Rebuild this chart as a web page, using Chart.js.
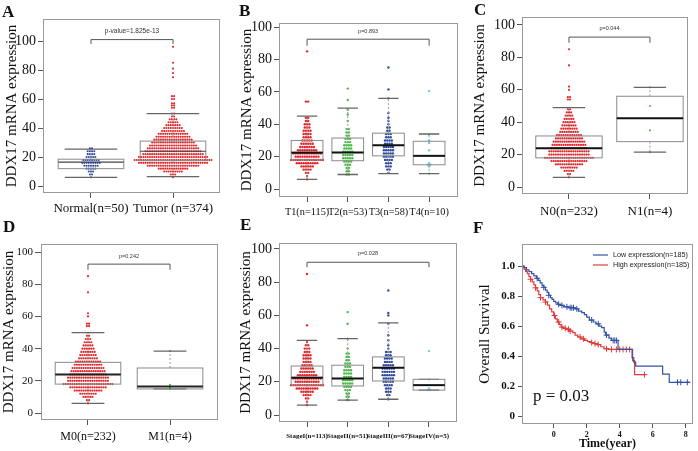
<!DOCTYPE html>
<html>
<head>
<meta charset="utf-8">
<script src="https://cdn.jsdelivr.net/npm/chart.js@4.4.1/dist/chart.umd.min.js"></script>
<style>
body { margin: 0; background: #fff; width: 698px; height: 451px; position: relative; overflow: hidden; }
.panel { position: absolute; }
.tag { position: absolute; font: bold 17px 'Liberation Serif'; color: #111; line-height: 1; }
</style>
</head>
<body>
<div class="panel" style="left:0;top:0"><canvas id="chartA" width="232" height="225"></canvas></div>
<div class="panel" style="left:232px;top:0"><canvas id="chartB" width="233" height="225"></canvas></div>
<div class="panel" style="left:465px;top:0"><canvas id="chartC" width="233" height="225"></canvas></div>
<div class="panel" style="left:0;top:225px"><canvas id="chartD" width="232" height="226"></canvas></div>
<div class="panel" style="left:232px;top:225px"><canvas id="chartE" width="233" height="226"></canvas></div>
<div class="panel" style="left:465px;top:225px"><canvas id="chartF" width="233" height="226"></canvas></div>
<div class="tag" style="left:2px;top:3px">A</div>
<div class="tag" style="left:239px;top:2px">B</div>
<div class="tag" style="left:474px;top:1px">C</div>
<div class="tag" style="left:3px;top:218px">D</div>
<div class="tag" style="left:240px;top:216px">E</div>
<div class="tag" style="left:473px;top:219px">F</div>
<script>
// rows of the beeswarms: [value, number of dots in that row]
const normalRows = [[6,1],[8,2],[10,3],[12,5],[14,7],[16,9],[18,8],[20,5],[22,4],[24,4],[26,2]];
const tumorRows = [[6,1],[8,3],[10,9],[12,14],[14,24],[16,32],[18,36],[20,32],[22,28],[24,26],[26,24],[28,22],[30,20],
  [32,18],[34,16],[36,14],[38,11],[40,9],[42,7],[44,5],[46,4],[48,2],[50,2],[54,2],[55.5,2],[57,2],[60,2],[62,2],
  [75,1],[78,1],[81,1],[85,1],[96,1]];
// box stats: [lower whisker, q1, median, q3, upper whisker]
const aBoxes = [[6,12,16.5,18.5,25.5],[6.5,17.5,24,31,50]];
const aLabels = ['Normal(n=50)', 'Tumor (n=374)'];

const t1Rows = [[6,1],[8,1],[10,2],[12,4],[14,6],[16,10],[18,15],[20,11],[22,13],[24,9],[26,7],[28,6],[30,5],[32,4],
  [34,4],[36,4],[38,3],[40,3],[42,2],[44,2],[54,2],[85,1]];
const t2Rows = [[9,2],[11,2],[13,2],[15,3],[17,4],[19,5],[21,5],[23,5],[25,4],[27,4],[29,3],[31,3],[33,2],[35,2],[37,2],
  [42,1],[46,1],[49,1],[55,1],[62,1]];
const t3Rows = [[10,1],[12,2],[14,3],[16,3],[18,4],[20,5],[22,5],[24,5],[26,5],[28,4],[30,4],[32,3],[34,3],[36,2],[38,2],
  [40,1],[42,1],[44,1],[47,1],[56,1],[61.5,1],[75,1]];
const t4Rows = [[9.5,1],[14,1],[15,2],[16,1],[24,1],[28.5,1],[30,1],[33.5,1],[60.5,1]];
const bBoxes = [[6,18,22.5,30,45],[9,17.5,22.5,31.5,50],[9.5,20.5,27,34.5,56],[9.5,15,20.5,29.5,34]];
const bLabels = ['T1(n=115)', 'T2(n=53)', 'T3(n=58)', 'T4(n=10)'];

const n0Rows = [[6,1],[8,2],[10,5],[12,8],[14,13],[16,17],[18,23],[20,19],[22,19],[24,17],[26,16],[28,15],[30,13],[32,12],
  [34,9],[36,8],[38,7],[40,6],[42,5],[44,4],[46,3],[48,2],[54,2],[55.5,2],[60,1],[62,1],[75,1],[85,1]];
const n1Rows = [[21.5,1],[35,1],[50,1],[61.5,1]];
const cBoxes = [[6,18,24,31.5,49],[21.5,28,42.5,56,61.5]];
const cLabels = ['N0(n=232)', 'N1(n=4)'];

// M0 holds the same 232 samples as N0
const m0Rows = n0Rows;
const m1Rows = [[15,1],[15.5,1],[17.5,1],[38.5,1]];
const dBoxes = [[6,18,24,31.5,50],[15,15,16.5,28,38.5]];
const dLabels = ['M0(n=232)', 'M1(n=4)'];

const s1Rows = [[6,1],[8,1],[10,2],[12,4],[14,6],[16,10],[18,15],[20,11],[22,13],[24,9],[26,7],[28,6],[30,5],[32,4],
  [34,4],[36,4],[38,3],[40,3],[42,2],[44,1],[54,1],[85,1]];
const s2Rows = [[9,2],[11,2],[13,2],[15,3],[17,4],[19,5],[21,5],[23,4],[25,4],[27,4],[29,3],[31,3],[33,2],[35,2],[37,2],
  [40,1],[46,1],[55,1],[62,1]];
const s3Rows = [[9.5,1],[12,2],[14,3],[16,3],[18,4],[20,5],[22,5],[24,6],[26,6],[28,6],[30,5],[32,4],[34,4],[36,3],[38,3],
  [40,1],[42,1],[45,1],[48,1],[55,1],[60,1],[61.5,1],[75,1]];
const s4Rows = [[15,2],[16,1],[21.5,1],[38.5,1]];
const eBoxes = [[6,18,22.5,29.5,45],[9,17.5,22,30,46],[9.5,20.5,28.5,35,55.5],[15,15,18,21.5,21.5]];
const eLabels = ['StageI(n=113)', 'StageII(n=51)', 'StageIII(n=67)', 'StageIV(n=5)'];

const exprTicks = [0, 20, 40, 60, 80, 100];

// Kaplan-Meier curves (time in years, survival)
const lowTime = [-1.92,-1.8,-1.65,-1.5,-1.34,-1.2,-1.05,-0.94,-0.82,-0.7,-0.6,-0.5,-0.4,-0.3,-0.2,-0.1,0,0.12,0.25,0.4,0.6,
  0.9,1.3,1.5,1.7,1.86,2.0,2.16,2.4,2.56,2.75,2.9,3.06,3.15,3.35,3.5,3.9,4.75,4.85,4.97,6.6,7.0,8.25];
const lowSurv = [1.0,0.99,0.975,0.963,0.95,0.935,0.918,0.904,0.888,0.87,0.858,0.84,0.825,0.805,0.79,0.778,0.765,0.755,0.745,
  0.738,0.728,0.722,0.715,0.70,0.69,0.676,0.66,0.64,0.627,0.615,0.60,0.59,0.56,0.54,0.52,0.504,0.444,0.39,0.36,0.333,0.28,0.225,0.225];
const highTime = [-1.92,-1.8,-1.7,-1.6,-1.5,-1.4,-1.3,-1.2,-1.1,-1.0,-0.9,-0.8,-0.65,-0.5,-0.38,-0.25,-0.12,0,0.1,0.22,0.34,
  0.46,0.6,0.76,0.95,1.16,1.3,1.46,1.65,1.86,2.05,2.26,2.45,2.65,2.85,3.05,3.3,4.78,4.9,5.55];
const highSurv = [1.0,0.98,0.965,0.95,0.93,0.912,0.895,0.875,0.855,0.835,0.81,0.79,0.775,0.76,0.74,0.715,0.695,0.67,0.648,
  0.627,0.61,0.593,0.585,0.578,0.567,0.556,0.54,0.527,0.515,0.504,0.497,0.49,0.483,0.476,0.462,0.449,0.444,0.37,0.276,0.276];
const lowCensor = [-1.0,-0.6,-0.3,0.3,0.5,0.8,1.0,1.1,1.2,1.4,2.3,2.7,3.2,3.6,3.7,3.8,7.5,7.7,8.1];
const highCensor = [-1.4,-1.1,-0.8,-0.5,0.05,0.3,0.5,0.7,0.9,1.0,1.6,1.8,2.3,2.5,2.7,3.2,3.5,3.8,4.0,4.2,4.4,4.6,5.5];
const survTicks = [0, 0.2, 0.4, 0.6, 0.8, 1.0];
const timeTicks = [0, 2, 4, 6, 8];

const RED = '#e2262b', BLUE = '#2f4a9e', GREEN = '#4cb84a', CYAN = '#74cdd9';
const SERIF = 'Liberation Serif';

function swarm(rows, g, dx) {
  const pts = [];
  rows.forEach(([v, n]) => {
    for (let i = 0; i < n; i++) pts.push({x: g + (i - (n - 1) / 2) * dx, y: v});
  });
  return pts;
}

function drawBoxes(chart, o) {
  const {ctx, chartArea: a, scales: {x, y}} = chart;
  const unit = x.getPixelForValue(2) - x.getPixelForValue(1);
  ctx.save();
  o.boxes.forEach((b, i) => {
    const cx = x.getPixelForValue(i + 1);
    const hw = o.boxHalf * unit, cw = o.capHalf * unit;
    const [lo, q1, md, q3, hi] = b.map(v => y.getPixelForValue(v));
    ctx.strokeStyle = '#9a9a9a';
    ctx.lineWidth = 1;
    ctx.setLineDash([2, 2]);
    ctx.beginPath();
    ctx.moveTo(cx, q3); ctx.lineTo(cx, hi);
    ctx.moveTo(cx, q1); ctx.lineTo(cx, lo);
    ctx.stroke();
    ctx.setLineDash([]);
    ctx.strokeStyle = '#666';
    ctx.lineWidth = 1.3;
    ctx.beginPath();
    ctx.moveTo(cx - cw, hi); ctx.lineTo(cx + cw, hi);
    ctx.moveTo(cx - cw, lo); ctx.lineTo(cx + cw, lo);
    ctx.stroke();
    ctx.strokeStyle = '#8a8a8a';
    ctx.lineWidth = 1;
    ctx.strokeRect(cx - hw, q3, hw * 2, q1 - q3);
    ctx.strokeStyle = o.medianColor;
    ctx.lineWidth = o.medianWidth;
    ctx.beginPath();
    ctx.moveTo(cx - hw, md); ctx.lineTo(cx + hw, md);
    ctx.stroke();
  });
  // significance bracket
  const x1 = x.getPixelForValue(1), x2 = x.getPixelForValue(o.boxes.length);
  const yb = y.getPixelForValue(o.bracket), yd = y.getPixelForValue(o.bracket - o.drop);
  ctx.strokeStyle = '#555';
  ctx.lineWidth = 1;
  ctx.beginPath();
  ctx.moveTo(x1, yd); ctx.lineTo(x1, yb); ctx.lineTo(x2, yb); ctx.lineTo(x2, yd);
  ctx.stroke();
  ctx.fillStyle = '#333';
  ctx.font = o.pFont;
  ctx.textAlign = 'center';
  ctx.textBaseline = 'middle';
  ctx.fillText(o.pText, (x1 + x2) / 2, y.getPixelForValue(o.pY));
  ctx.strokeStyle = '#9a9a9a';
  ctx.strokeRect(a.left + 0.5, a.top + 0.5, a.width - 1, a.height - 1);
  ctx.restore();
}

function boxPanel(id, o) {
  const cv = document.getElementById(id);
  const W = cv.width, H = cv.height;
  const [L, T, R, B] = o.area;
  const datasets = o.groups.map((rows, gi) => ({
    data: swarm(rows, gi + 1, o.dx),
    backgroundColor: o.colors[gi],
    borderWidth: 0,
    pointRadius: o.r,
  }));
  new Chart(cv, {
    type: 'scatter',
    data: {datasets},
    options: {
      responsive: false, animation: false, devicePixelRatio: 1,
      layout: {padding: {left: 0, top: T, right: W - R, bottom: 0}},
      plugins: {legend: {display: false}, tooltip: {enabled: false}},
      scales: {
        x: {
          type: 'linear', min: o.xMin, max: o.xMax,
          afterBuildTicks: s => { s.ticks = o.labels.map((_, i) => ({value: i + 1})); },
          afterFit: s => { s.height = H - B; s.paddingLeft = 0; s.paddingRight = 0; },
          ticks: {callback: v => o.labels[v - 1], autoSkip: false, maxRotation: 0, minRotation: 0,
            font: o.xFont, color: '#111', padding: o.xPad},
          grid: {drawOnChartArea: false, tickLength: 5, color: '#555'},
          border: {display: false}
        },
        y: {
          min: o.yMin, max: o.yMax,
          afterBuildTicks: s => { s.ticks = exprTicks.map(v => ({value: v})); },
          afterFit: s => { s.width = L; s.paddingTop = 0; s.paddingBottom = 0; },
          ticks: {font: {family: SERIF, size: o.yTickSize}, color: '#111', padding: 2},
          grid: {drawOnChartArea: false, tickLength: o.yTickLen || 5, color: '#555'},
          border: {display: false},
          title: {display: true, text: 'DDX17 mRNA expression', font: {family: SERIF, size: 15}, color: '#111',
            padding: {top: o.titlePad, bottom: 0}}
        }
      }
    },
    plugins: [{id: 'boxes', afterDatasetsDraw: chart => drawBoxes(chart, o)}]
  });
}

boxPanel('chartA', {
  groups: [normalRows, tumorRows], colors: [BLUE, RED], boxes: aBoxes, labels: aLabels,
  area: [43, 19, 220, 193], xMin: 0.415, xMax: 2.573, yMin: -4.8, yMax: 115.2,
  dx: 0.0268, r: 1.05, boxHalf: 0.4, capHalf: 0.32, medianColor: '#444', medianWidth: 1.2,
  xFont: {family: SERIF, size: 13}, xPad: 3, yTickSize: 14, titlePad: 3,
  bracket: 101, drop: 3, pY: 106.5, pText: 'p-value=1.825e-13', pFont: '6.5px "Liberation Sans"'
});
boxPanel('chartB', {
  groups: [t1Rows, t2Rows, t3Rows, t4Rows], colors: [RED, GREEN, BLUE, CYAN], boxes: bBoxes, labels: bLabels,
  area: [47, 23, 226, 197], xMin: 0.31, xMax: 4.71, yMin: -4.9, yMax: 102.5,
  dx: 0.056, r: 1.2, boxHalf: 0.39, capHalf: 0.25, medianColor: '#111', medianWidth: 2,
  xFont: {family: SERIF, size: 10.3}, xPad: 4, yTickSize: 14, titlePad: 6,
  bracket: 92.5, drop: 4, pY: 97.5, pText: 'p=0.893', pFont: '5.5px "Liberation Sans"'
});
boxPanel('chartC', {
  groups: [n0Rows, n1Rows], colors: [RED, GREEN], boxes: cBoxes, labels: cLabels,
  area: [57, 17, 223, 194], xMin: 0.42, xMax: 2.47, yMin: -4.3, yMax: 104.9,
  dx: 0.027, r: 1.1, boxHalf: 0.41, capHalf: 0.2, medianColor: '#111', medianWidth: 2,
  xFont: {family: SERIF, size: 13}, xPad: 5, yTickSize: 14, titlePad: 6,
  bracket: 92.5, drop: 3.5, pY: 97.8, pText: 'p=0.044', pFont: '5.5px "Liberation Sans"'
});
boxPanel('chartD', {
  groups: [m0Rows, m1Rows], colors: [RED, GREEN], boxes: dBoxes, labels: dLabels,
  area: [41, 19, 218, 195], xMin: 0.427, xMax: 2.585, yMin: -4.3, yMax: 105,
  dx: 0.027, r: 1.1, boxHalf: 0.4, capHalf: 0.2, medianColor: '#222', medianWidth: 2,
  xFont: {family: SERIF, size: 12}, xPad: 5, yTickSize: 11, yTickLen: 6, titlePad: 0,
  bracket: 92.5, drop: 3.5, pY: 97.5, pText: 'p=0.242', pFont: '5.5px "Liberation Sans"'
});
boxPanel('chartE', {
  groups: [s1Rows, s2Rows, s3Rows, s4Rows], colors: [RED, GREEN, BLUE, CYAN], boxes: eBoxes, labels: eLabels,
  area: [47, 18, 225, 197], xMin: 0.31, xMax: 4.69, yMin: -4.2, yMax: 103.6,
  dx: 0.056, r: 1.2, boxHalf: 0.39, capHalf: 0.25, medianColor: '#111', medianWidth: 2,
  xFont: {family: SERIF, size: 7, weight: 'bold'}, xPad: 5, yTickSize: 14, titlePad: 5,
  bracket: 92, drop: 3, pY: 97.5, pText: 'p=0.028', pFont: '5.5px "Liberation Sans"'
});

// panel F: survival curves
function survAt(times, surv, t) {
  let s = surv[0];
  times.forEach((tt, i) => { if (tt <= t) s = surv[i]; });
  return s;
}
const KM_BLUE = '#3553a5', KM_RED = '#e03a3a';
const cvF = document.getElementById('chartF');
new Chart(cvF, {
  type: 'line',
  data: {
    datasets: [
      {data: lowTime.map((t, i) => ({x: t, y: lowSurv[i]})), borderColor: KM_BLUE, borderWidth: 1.2, stepped: 'before', pointRadius: 0},
      {data: highTime.map((t, i) => ({x: t, y: highSurv[i]})), borderColor: KM_RED, borderWidth: 1.2, stepped: 'before', pointRadius: 0},
      {type: 'scatter', data: lowCensor.map(t => ({x: t, y: survAt(lowTime, lowSurv, t)})), pointStyle: 'cross',
        pointRadius: 3, borderColor: KM_BLUE, borderWidth: 1},
      {type: 'scatter', data: highCensor.map(t => ({x: t, y: survAt(highTime, highSurv, t)})), pointStyle: 'cross',
        pointRadius: 3, borderColor: KM_RED, borderWidth: 1}
    ]
  },
  options: {
    responsive: false, animation: false, devicePixelRatio: 1,
    layout: {padding: {left: 0, top: 19, right: 3, bottom: 0}},
    plugins: {legend: {display: false}, tooltip: {enabled: false}},
    scales: {
      x: {
        type: 'linear', min: -1.92, max: 8.44,
        afterBuildTicks: s => { s.ticks = timeTicks.map(v => ({value: v})); },
        afterFit: s => { s.height = 27; s.paddingLeft = 0; s.paddingRight = 0; },
        ticks: {font: {family: SERIF, size: 8, weight: 'bold'}, color: '#111', padding: 2, maxRotation: 0},
        grid: {drawOnChartArea: false, tickLength: 4, color: '#555'},
        border: {display: false},
        title: {display: true, text: 'Time(year)', font: {family: SERIF, size: 12, weight: 'bold'}, color: '#111',
          padding: {top: 0, bottom: 0}}
      },
      y: {
        min: -0.053, max: 1.147,
        afterBuildTicks: s => { s.ticks = survTicks.map(v => ({value: v})); },
        afterFit: s => { s.width = 57; s.paddingTop = 0; s.paddingBottom = 0; },
        ticks: {callback: v => v === 0 ? '0' : v.toFixed(1), font: {family: SERIF, size: 11, weight: 'bold'}, color: '#111', padding: 3},
        grid: {drawOnChartArea: false, tickLength: 4, color: '#555'},
        border: {display: false},
        title: {display: true, text: 'Overall Survival', font: {family: SERIF, size: 15}, color: '#111',
          padding: {top: 11, bottom: 0}}
      }
    }
  },
  plugins: [{
    id: 'kmExtras',
    afterDatasetsDraw(chart) {
      const {ctx, chartArea: a} = chart;
      ctx.save();
      ctx.strokeStyle = '#9a9a9a';
      ctx.lineWidth = 1;
      ctx.strokeRect(a.left + 0.5, a.top + 0.5, a.width - 1, a.height - 1);
      const items = [['Low expression(n=185)', KM_BLUE], ['High expression(n=185)', KM_RED]];
      ctx.font = '7.2px "Liberation Sans"';
      ctx.textBaseline = 'middle';
      items.forEach(([txt, col], i) => {
        const yy = a.top + 11 + i * 10;
        ctx.strokeStyle = col;
        ctx.lineWidth = 1.2;
        ctx.beginPath();
        ctx.moveTo(a.left + 71, yy); ctx.lineTo(a.left + 86, yy);
        ctx.stroke();
        ctx.fillStyle = '#222';
        ctx.fillText(txt, a.left + 91, yy);
      });
      ctx.font = '17px ' + SERIF;
      ctx.fillStyle = '#111';
      ctx.textBaseline = 'alphabetic';
      ctx.fillText('p = 0.03', a.left + 11, a.top + 157);
      ctx.restore();
    }
  }]
});
</script>
</body>
</html>
